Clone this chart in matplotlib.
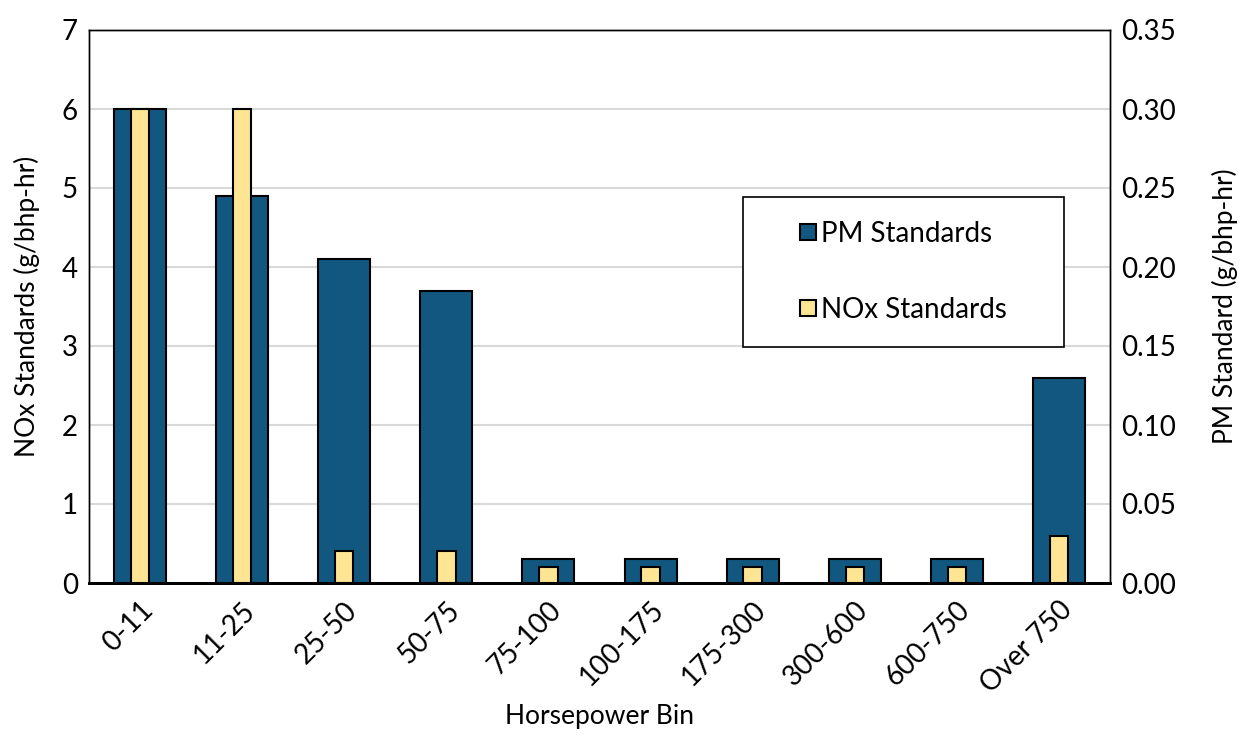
import matplotlib.pyplot as plt
from matplotlib.patches import Rectangle
import numpy as np

bins = ["0-11", "11-25", "25-50", "50-75", "75-100", "100-175",
        "175-300", "300-600", "600-750", "Over 750"]
pm_standards = [0.30, 0.245, 0.205, 0.185, 0.015, 0.015, 0.015, 0.015, 0.015, 0.13]
nox_standards = [6.0, 6.0, 0.4, 0.4, 0.2, 0.2, 0.2, 0.2, 0.2, 0.6]

PM_COLOR = "#12577f"
NOX_COLOR = "#fee594"

plt.rcParams["font.family"] = ["Lato", "DejaVu Sans"]


def main():
    fig = plt.figure(figsize=(12.42, 7.42), dpi=100)
    ax = fig.add_axes([89 / 1242, 1 - 583 / 742, 1021 / 1242, 553 / 742])
    ax2 = ax.twinx()

    x = np.arange(len(bins))

    # PM on the right axis, drawn underneath
    pm_bars = ax2.bar(x, pm_standards, width=0.51, color=PM_COLOR,
                      edgecolor="black", linewidth=1.5, label="PM Standards",
                      zorder=2)
    ax2.set_ylim(0, 0.35)
    ax2.set_yticks(np.arange(0, 0.351, 0.05))
    ax2.set_yticklabels([f"{v:.2f}" for v in np.arange(0, 0.351, 0.05)])
    ax2.yaxis.grid(True, color="#d9d9d9", linewidth=1.5, zorder=0)
    ax2.set_axisbelow(True)
    ax2.set_ylabel("PM Standard (g/bhp-hr)", fontsize=19, labelpad=26)

    # NOx bars on the left axis, kept on top
    ax.set_zorder(ax2.get_zorder() + 1)
    ax.patch.set_visible(False)
    nox_bars = ax.bar(x, nox_standards, width=0.18, color=NOX_COLOR,
                      edgecolor="black", linewidth=1.5, label="NOx Standards",
                      zorder=3)
    ax.set_ylim(0, 7)
    ax.set_yticks(range(0, 8))
    ax.set_xlim(-0.5, len(bins) - 0.5)
    ax.set_xticks(x)
    ax.set_xticklabels(bins, rotation=45, ha="right", rotation_mode="anchor")
    ax.set_ylabel("NOx Standards (g/bhp-hr)", fontsize=19, labelpad=16)
    ax.set_xlabel("Horsepower Bin", fontsize=19, labelpad=4)

    for a in (ax, ax2):
        a.tick_params(axis="both", length=0, labelsize=20, pad=8)
        for side in ("top", "right", "left"):
            a.spines[side].set_linewidth(1.0)
        a.spines["bottom"].set_linewidth(2.0)
    ax.tick_params(axis="x", pad=10)

    # legend box
    box = Rectangle((0.641, 0.427), 0.314, 0.271, transform=ax.transAxes,
                    facecolor="white", edgecolor="black", linewidth=1.2,
                    zorder=5)
    ax.add_patch(box)
    leg = ax.legend([pm_bars, nox_bars], ["PM Standards", "NOx Standards"],
                    loc="center", bbox_to_anchor=(0.798, 0.5625), fontsize=20,
                    frameon=False, handlelength=0.55, handleheight=0.55,
                    handletextpad=0.2, labelspacing=1.8, borderaxespad=0)
    leg.set_zorder(6)

    fig.savefig("out.png", dpi=100)


if __name__ == "__main__":
    main()
